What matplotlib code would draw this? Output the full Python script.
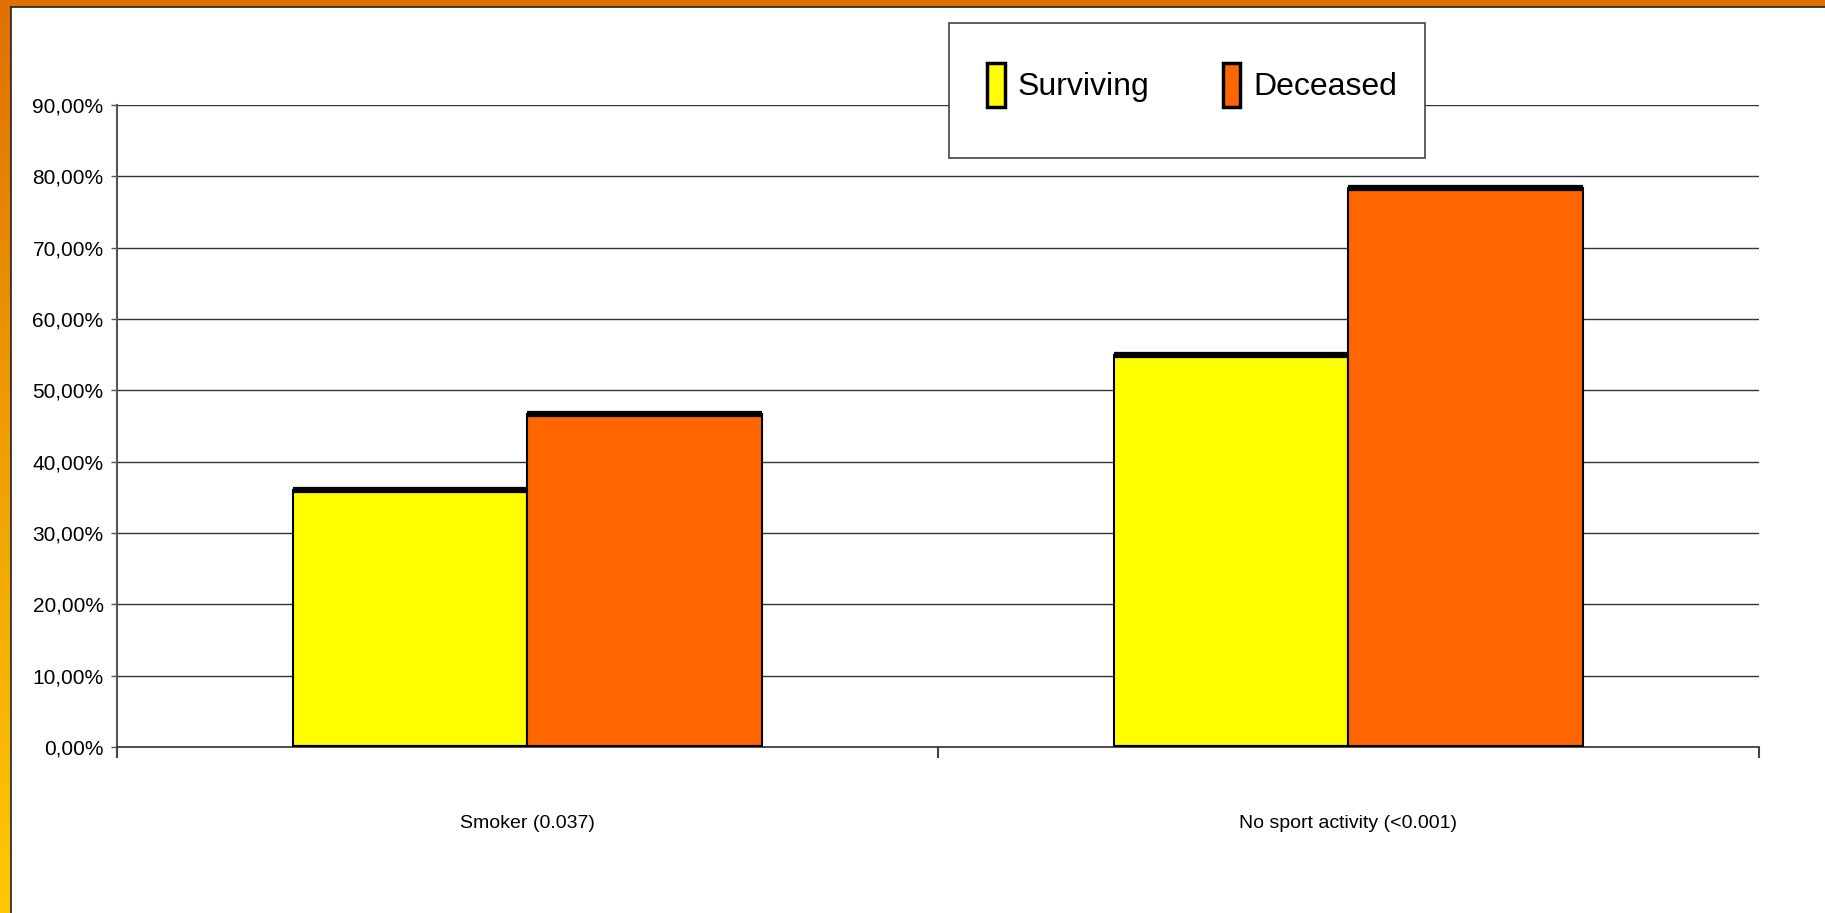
import numpy as np
import matplotlib
matplotlib.use("Agg")
import matplotlib.pyplot as plt
from matplotlib.ticker import FixedLocator, FuncFormatter
from matplotlib.patches import Rectangle
from matplotlib.colors import LinearSegmentedColormap

# Data
categories = ["Smoker (0.037)", "No sport activity (<0.001)"]
series_names = ["Surviving", "Deceased"]
surviving = [0.360, 0.550]
deceased = [0.467, 0.784]
y_ticks = [0.0, 0.1, 0.2, 0.3, 0.4, 0.5, 0.6, 0.7, 0.8, 0.9]

colors = ["#FFFF00", "#FF6600"]
plt.rcParams["font.family"] = ["Liberation Sans Narrow", "Liberation Sans", "DejaVu Sans"]

W, H = 1825, 913
fig = plt.figure(figsize=(W / 100, H / 100), dpi=100)
fig.patch.set_facecolor("white")

# Slide frame: orange top strip and an orange-to-yellow strip on the left
top_h = 7 / H
left_w = 11 / W
fig.patches.append(Rectangle((0, 1 - top_h), 1, top_h, transform=fig.transFigure,
                             facecolor="#E07000", edgecolor="none", zorder=0))
gax = fig.add_axes([0, 0, left_w, 1 - top_h + 0.0001])
grad = np.linspace(0, 1, 256).reshape(-1, 1)
cmap = LinearSegmentedColormap.from_list("frame", ["#E07000", "#F0A000", "#FFC800"])
gax.imshow(grad, aspect="auto", cmap=cmap, extent=[0, 1, 0, 1], origin="upper")
gax.axis("off")
# thin dark edges of the white panel
fig.add_artist(plt.Line2D([left_w, left_w], [0, 1 - top_h], transform=fig.transFigure,
                          color="#222222", lw=1.2))
fig.add_artist(plt.Line2D([left_w, 1], [1 - top_h, 1 - top_h], transform=fig.transFigure,
                          color="#222222", lw=1.2))

# Main chart
ax = fig.add_axes([116.7 / W, 1 - 747 / H, (1759 - 116.7) / W, (747 - 105) / H])
x = np.arange(len(categories))
bw = 1 / 3.5
values = [surviving, deceased]
offsets = [-bw / 2, bw / 2]
for vals, off, col, name in zip(values, offsets, colors, series_names):
    ax.bar(x + off, vals, width=bw, color=col, edgecolor="black", linewidth=1.5,
           label=name, zorder=3)
    ax.hlines(vals, x + off - bw / 2, x + off + bw / 2, colors="black", linewidth=4.5, zorder=4)
    ax.hlines([0] * len(vals), x + off - bw / 2, x + off + bw / 2, colors="black",
              linewidth=3, zorder=4)

ax.set_xlim(-0.5, len(categories) - 0.5)
ax.set_ylim(0, 0.9)
ax.yaxis.set_major_locator(FixedLocator(y_ticks))
ax.yaxis.set_major_formatter(FuncFormatter(lambda v, p: f"{v * 100:.2f}%".replace(".", ",")))
ax.grid(axis="y", color="#333333", linewidth=1, zorder=0)
ax.set_axisbelow(True)
for s in ["top", "right"]:
    ax.spines[s].set_visible(False)
ax.spines["left"].set_color("#555555")
ax.spines["left"].set_linewidth(1.5)
ax.spines["bottom"].set_color("#333333")
ax.spines["bottom"].set_linewidth(1.2)
ax.tick_params(axis="y", length=4, width=1, color="#555555", pad=5.5, labelsize=15,
               labelcolor="black")

# category boundaries as major ticks, names as minor ticks
ax.xaxis.set_major_locator(FixedLocator(np.arange(-0.5, len(categories), 1.0)))
ax.xaxis.set_major_formatter(FuncFormatter(lambda v, p: ""))
ax.xaxis.set_minor_locator(FixedLocator(x))
ax.set_xticklabels(categories, minor=True)
ax.tick_params(axis="x", which="major", length=8, width=1.5, color="#444444")
ax.tick_params(axis="x", which="minor", length=0, pad=49, labelsize=14)

# Legend box with fixed extent, entries placed inside
lx0, ly0, lx1, ly1 = 949, 23, 1425, 158
box = Rectangle((lx0 / W, 1 - ly1 / H), (lx1 - lx0) / W, (ly1 - ly0) / H,
                transform=fig.transFigure, facecolor="white",
                edgecolor="#444444", linewidth=1.2, zorder=5, clip_on=False)
ax.add_artist(box)
leg = ax.legend(loc="center", bbox_to_anchor=(1192 / W, 1 - 85 / H),
                bbox_transform=fig.transFigure, ncol=2, fontsize=23, frameon=False,
                handlelength=0.55, handleheight=1.75, handletextpad=0.4,
                columnspacing=2.3, borderaxespad=0)
leg.set_zorder(6)
for h in leg.legend_handles:
    h.set_linewidth(2.5)

fig.savefig("out.png", dpi=100, facecolor="white")
